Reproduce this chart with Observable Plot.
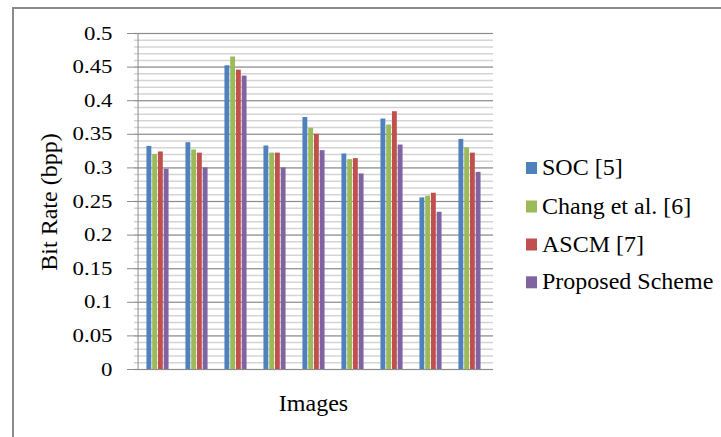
<!DOCTYPE html>
<html><head><meta charset="utf-8">
<script src="https://cdn.jsdelivr.net/npm/d3@7"></script>
<script src="https://cdn.jsdelivr.net/npm/@observablehq/plot@0.6"></script>
<style>
html,body{margin:0;padding:0;background:#fff;}
#wrap{position:relative;width:721px;height:437px;overflow:hidden;font-family:"Liberation Serif","Times New Roman",serif;color:#000;}
#border{position:absolute;left:12px;top:7px;width:760px;height:480px;border-left:2px solid #8a8a8a;border-top:2px solid #8a8a8a;box-sizing:border-box;}
#chart{position:absolute;left:0;top:0;}
#chart svg, #chart svg text{font-family:"Liberation Serif","Times New Roman",serif !important;}
#chart svg text{fill:#000;font-size:19px;}
#overlay{position:absolute;left:0;top:0;pointer-events:none;}
#overlay text{font-family:"Liberation Serif","Times New Roman",serif;font-size:24px;fill:#000;}
</style>
</head><body>
<div id="wrap">
  <div id="border"></div>
  <div id="chart"></div>
</div>
<script>
const images = ["1","2","3","4","5","6","7","8","9"];
const series = ["SOC [5]", "Chang et al. [6]", "ASCM [7]", "Proposed Scheme"];
const colors = ["#4F81BD", "#9BBB59", "#C0504D", "#8064A2"];
const soc      = [0.332, 0.3375, 0.452, 0.3326, 0.375, 0.3207, 0.3727, 0.2554, 0.3424];
const chang    = [0.320, 0.3267, 0.465, 0.322,  0.359, 0.3123, 0.3638, 0.2578, 0.330];
const ascm     = [0.3237, 0.322, 0.4455, 0.322, 0.350, 0.3138, 0.3836, 0.2623, 0.322];
const proposed = [0.298, 0.300, 0.4366, 0.300, 0.3257, 0.291, 0.334, 0.234, 0.2934];
const yTicks = [0, 0.05, 0.1, 0.15, 0.2, 0.25, 0.3, 0.35, 0.4, 0.45, 0.5];
const minorTicks = d3.range(0, 51).map(i => i / 100);
const yLabel = "Bit Rate (bpp)";
const xLabel = "Images";

const values = [soc, chang, ascm, proposed];
const data = [];
series.forEach((s, k) => images.forEach((im, i) => data.push({image: im, series: s, k, value: values[k][i]})));

const W = 721, H = 437, ML = 134, MR = 228, MT = 33, MB = 68;
const band = (W - ML - MR) / images.length;
const groupW = 23, barW = groupW / series.length, pad = (band - groupW) / 2;

const barMarks = series.map((s, k) => Plot.barY(data.filter(d => d.k === k), {
  x: "image", y: "value", fill: "series",
  insetLeft: pad + k * barW, insetRight: pad + (series.length - 1 - k) * barW
}));

const chart = Plot.plot({
  width: W, height: H,
  marginLeft: ML, marginRight: MR, marginTop: MT, marginBottom: MB,
  style: {fontFamily: "Liberation Serif", fontSize: "19px", background: "transparent", color: "#8c8c8c", overflow: "visible"},
  x: {domain: images, padding: 0, axis: null},
  y: {domain: [0, 0.5], ticks: yTicks, tickFormat: d => String(+d.toFixed(2)), tickSize: 7, tickPadding: 15, label: null},
  color: {domain: series, range: colors},
  marks: [
    Plot.ruleY(minorTicks, {stroke: "#d4d4d4", strokeWidth: 1.5}),
    Plot.ruleY(yTicks, {stroke: "#8c8c8c", strokeWidth: 1}),
    ...barMarks,
    Plot.ruleX([images[0]], {dx: -band / 2, y1: 0, y2: 0.5, stroke: "#8c8c8c", strokeWidth: 1})
  ]
});
document.getElementById("chart").appendChild(chart);

// widen the tick labels slightly, as in the original figure
chart.querySelectorAll("text").forEach(t => {
  const L = t.getComputedTextLength();
  if (L > 0) { t.setAttribute("textLength", (L * 1.2).toFixed(1)); t.setAttribute("lengthAdjust", "spacingAndGlyphs"); }
});

// axis titles and legend
const svg = d3.select("#wrap").append("svg").attr("id", "overlay").attr("width", W).attr("height", H);
svg.append("text").attr("x", ML + (W - ML - MR) / 2).attr("y", 411).attr("text-anchor", "middle").text(xLabel);
svg.append("text").attr("transform", "translate(57,202) rotate(-90)").attr("text-anchor", "middle").text(yLabel);
const baselines = [175, 213.5, 251.5, 289.3];
const lg = svg.append("g");
series.forEach((s, k) => {
  lg.append("rect").attr("x", 526).attr("y", baselines[k] - 13).attr("width", 11).attr("height", 12).attr("fill", colors[k]);
  lg.append("text").attr("x", 542).attr("y", baselines[k]).text(s);
});
</script>
</body></html>
